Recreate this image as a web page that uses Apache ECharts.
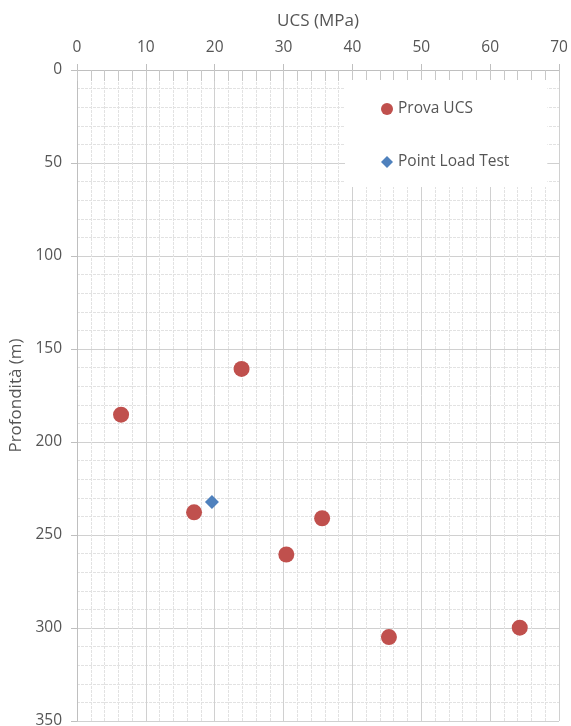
<!DOCTYPE html>
<html>
<head>
<meta charset="utf-8">
<script src="https://cdn.jsdelivr.net/npm/echarts@6/dist/echarts.min.js"></script>
<style>html,body{margin:0;padding:0;background:#fff;}#c{width:571px;height:726px;}</style>
</head>
<body>
<div id="c"></div>
<script>
const xTicks = [0, 10, 20, 30, 40, 50, 60, 70];
const yTicks = [0, 50, 100, 150, 200, 250, 300, 350];
const seriesNames = ['Prova UCS', 'Point Load Test'];
const ucsValue = [23.9, 6.4, 17.0, 35.6, 30.4, 45.3, 64.3];
const ucsDepth = [160.7, 185.3, 237.8, 241.0, 260.5, 304.9, 299.8];
const pltValue = [19.6];
const pltDepth = [232.2];

const FONT = 'Open Sans';
const TXT = '#555555';
const chart = echarts.init(document.getElementById('c'));
const xBase = {
  type: 'value', position: 'top',
  min: xTicks[0], max: xTicks[xTicks.length - 1], interval: 10
};
chart.setOption({
  animation: false,
  backgroundColor: '#fff',
  grid: { left: 77, right: 12, top: 70, bottom: 5, containLabel: false, outerBoundsMode: 'none' },
  legend: {
    orient: 'vertical', left: 345, top: 80,
    backgroundColor: '#fff',
    padding: [20, 38, 16, 36],
    itemGap: 35, itemWidth: 12, itemHeight: 12,
    textStyle: { fontFamily: FONT, fontSize: 15.5, color: TXT, lineHeight: 18 },
    data: [
      { name: seriesNames[0], icon: 'circle' },
      { name: seriesNames[1], icon: 'diamond' }
    ],
    z: 3
  },
  xAxis: [
    Object.assign({}, xBase, {
      name: 'UCS (MPa)', nameLocation: 'middle', nameGap: 40,
      nameTextStyle: { fontFamily: FONT, fontSize: 17, color: TXT },
      axisLine: { show: true, onZero: false, lineStyle: { color: '#bfbfbf' } },
      axisTick: { show: true, inside: true, length: 11, lineStyle: { color: '#c8c8c8' } },
      minorTick: { show: true, splitNumber: 5, length: 11, lineStyle: { color: '#c8c8c8' } },
      axisLabel: { fontFamily: FONT, fontSize: 15.5, color: TXT, margin: 14 },
      splitLine: { show: true, lineStyle: { color: '#d0d0d0' } },
      minorSplitLine: { show: true, lineStyle: { color: '#e2e2e2', type: [3, 1] } }
    }),
    Object.assign({}, xBase, {
      axisLine: { show: false },
      axisTick: { show: true, inside: false, length: 6, lineStyle: { color: '#bfbfbf' } },
      axisLabel: { show: false },
      splitLine: { show: false }
    })
  ],
  yAxis: {
    type: 'value', inverse: true,
    min: yTicks[0], max: yTicks[yTicks.length - 1], interval: 50,
    name: 'Profondità (m)', nameLocation: 'middle', nameGap: 46, nameRotate: 90,
    nameTextStyle: { fontFamily: FONT, fontSize: 17, color: TXT },
    axisLine: { show: true, onZero: false, lineStyle: { color: '#bfbfbf' } },
    axisTick: { show: true, inside: false, length: 6, lineStyle: { color: '#bfbfbf' } },
    minorTick: { show: false, splitNumber: 5 },
    axisLabel: { fontFamily: FONT, fontSize: 15.5, color: TXT, margin: 15 },
    splitLine: { show: true, lineStyle: { color: '#d0d0d0' } },
    minorSplitLine: { show: true, lineStyle: { color: '#e2e2e2', type: [3, 1] } }
  },
  series: [
    {
      name: seriesNames[0], type: 'scatter', xAxisIndex: 0,
      symbol: 'circle', symbolSize: 16,
      itemStyle: { color: '#C0504D', opacity: 1 },
      data: ucsValue.map((v, i) => [v, ucsDepth[i]]),
      z: 5
    },
    {
      name: seriesNames[1], type: 'scatter', xAxisIndex: 0,
      symbol: 'diamond', symbolSize: [14, 14],
      itemStyle: { color: '#4F81BD', opacity: 1 },
      data: pltValue.map((v, i) => [v, pltDepth[i]]),
      z: 5
    }
  ]
});
</script>
</body>
</html>
